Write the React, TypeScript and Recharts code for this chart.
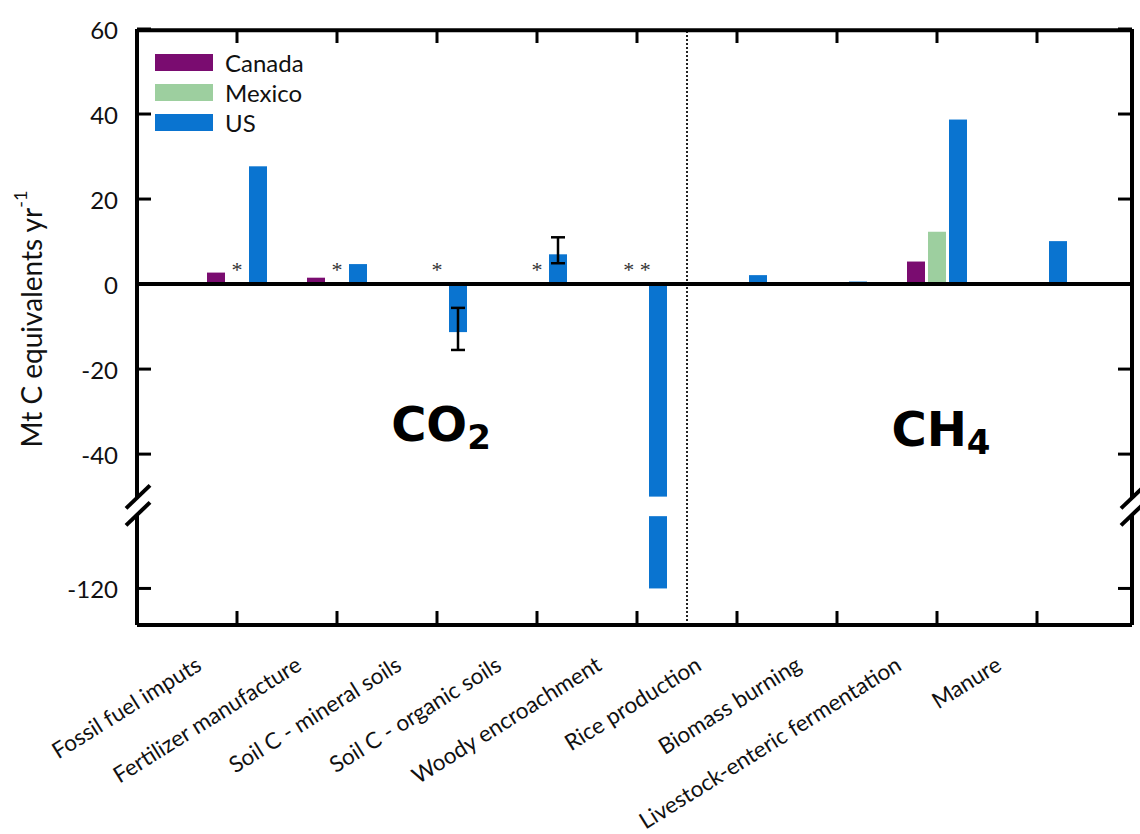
import React from 'react';
import { BarChart, Bar, Line, XAxis, YAxis, ReferenceLine, ReferenceDot, ErrorBar, Legend } from 'recharts';

// ---------- data ----------
const categories = [
  'Fossil fuel imputs',
  'Fertilizer manufacture',
  'Soil C - mineral soils',
  'Soil C - organic soils',
  'Woody encroachment',
  'Rice production',
  'Biomass burning',
  'Livestock-enteric fermentation',
  'Manure',
];
const canadaValues: (number | null)[] = [2.7, 1.5, null, null, null, null, null, 5.3, null];
const mexicoValues: (number | null)[] = [null, null, null, null, null, null, null, 12.3, null];
const usValues: number[] = [27.7, 4.7, -11.3, 7.0, -120, 2.1, 0.6, 38.7, 10.1];
const usErrorLow: (number | null)[] = [null, null, 4.2, 2.1, null, null, null, null, null];
const usErrorHigh: (number | null)[] = [null, null, 5.7, 4.0, null, null, null, null, null];
const notEstimatedMarks = ['*', '*', '*', '*', '* *', '', '', '', ''];
const yTickValues = [60, 40, 20, 0, -20, -40, -120];
const seriesKeys = ['canada', 'mexico', 'us'];
const seriesNames = ['Canada', 'Mexico', 'US'];
const seriesColors = ['#7a0c70', '#9dcf9f', '#0a74d0'];
const gasLabels = [
  { gas: 'CO', sub: '2', category: 'Soil C - mineral soils', y: -37 },
  { gas: 'CH', sub: '4', category: 'Livestock-enteric fermentation', y: -38 },
];

// ---------- broken axis ----------
const Y_MAX = 60;
const Y_MIN = -80.2; // display units
const BREAK_FROM = -50; // real value where the axis breaks
const BREAK_TO = -103; // real value where the axis resumes
const BREAK_GAP = 4.6; // display units of white gap
const BREAK_MARK = BREAK_FROM - BREAK_GAP / 2;
const LOWER_SHIFT = BREAK_FROM - BREAK_GAP - BREAK_TO;
const TOP_EDGE = Y_MAX - 0.3; // just inside the domain so the frame line is not discarded
const TOP_TICK_END = Y_MAX - 3.3; // inward tick length on the top frame

const toDisplay = (v: number | null) => {
  if (v == null) return null;
  if (v >= BREAK_FROM) return v;
  if (v <= BREAK_TO) return v + LOWER_SHIFT;
  return BREAK_FROM - ((BREAK_FROM - v) / (BREAK_FROM - BREAK_TO)) * BREAK_GAP;
};
const fromDisplay = (d: number) => (d >= BREAK_FROM ? d : Math.round(d - LOWER_SHIFT));

const data = categories.map((name, i) => ({
  name,
  canada: toDisplay(canadaValues[i]),
  mexico: toDisplay(mexicoValues[i]),
  us: toDisplay(usValues[i]),
  usErr: usErrorLow[i] == null ? null : [usErrorLow[i], usErrorHigh[i]],
}));

const yTicks = [...yTickValues.map((v) => toDisplay(v) as number), BREAK_MARK];

const FONT = 'Lato, "Open Sans", sans-serif';

// ---------- custom pieces ----------
const BrokenBar = (props: any) => {
  const { x, y, width, height, fill, payload } = props;
  if (x == null || y == null || !isFinite(height)) return null;
  const top = Math.min(y, y + height);
  const h = Math.abs(height);
  const dv = payload?.us;
  if (dv == null || dv >= BREAK_FROM || h === 0) {
    return <rect x={x} y={top} width={width} height={h} fill={fill} />;
  }
  const ppu = h / Math.abs(dv);
  const g1 = top + Math.abs(BREAK_FROM) * ppu;
  const g2 = top + Math.abs(BREAK_FROM - BREAK_GAP) * ppu;
  return (
    <g>
      <rect x={x} y={top} width={width} height={g1 - top} fill={fill} />
      <rect x={x} y={g2} width={width} height={top + h - g2} fill={fill} />
    </g>
  );
};

const BreakSymbol = ({ ax, yc }: { ax: number; yc: number }) => (
  <g>
    <rect x={ax - 3} y={yc - 8.5} width={6} height={17} fill="#fff" />
    <line x1={ax - 11} y1={yc + 2} x2={ax + 13} y2={yc - 21} stroke="#000" strokeWidth={4} />
    <line x1={ax - 11} y1={yc + 19} x2={ax + 13} y2={yc - 4} stroke="#000" strokeWidth={4} />
  </g>
);

const LeftTick = (props: any) => {
  const { x, y, payload } = props;
  const ax = x + 19;
  if (payload.value === BREAK_MARK) return <BreakSymbol ax={ax} yc={y} />;
  return (
    <g>
      <line x1={ax} x2={ax + 14} y1={y} y2={y} stroke="#000" strokeWidth={3} />
      <text x={x} y={y} textAnchor="end" dominantBaseline="central" fontSize={24} fontFamily={FONT} fill="#111">
        {fromDisplay(payload.value)}
      </text>
    </g>
  );
};

const RightTick = (props: any) => {
  const { x, y, payload } = props;
  if (payload.value === BREAK_MARK) return <BreakSymbol ax={x} yc={y} />;
  return <line x1={x - 14} x2={x} y1={y} y2={y} stroke="#000" strokeWidth={3} />;
};

const BottomTick = (props: any) => {
  const { x, y, payload } = props;
  const tx = x - 34;
  const ty = y + 44;
  return (
    <g>
      <line x1={x} x2={x} y1={y} y2={y - 14} stroke="#000" strokeWidth={3} />
      <text x={tx} y={ty} textAnchor="end" transform={`rotate(-32, ${tx}, ${ty})`} fontSize={22.5} fontFamily={FONT} fill="#111">
        {payload.value}
      </text>
    </g>
  );
};

const YTitle = (props: any) => {
  const vb = props.viewBox || { x: 0, y: 0, width: 0, height: 0 };
  const cx = vb.x + 31;
  const cy = vb.y + vb.height / 2 - 8;
  return (
    <text x={cx} y={cy} transform={`rotate(-90, ${cx}, ${cy})`} textAnchor="middle" dominantBaseline="central" fontSize={28} fontFamily={FONT} fill="#111">
      Mt C equivalents yr
      <tspan dy={-11} fontSize={18}>-1</tspan>
    </text>
  );
};

const StarLabel = (props: any) => {
  const vb = props.viewBox || { x: 0, y: 0, width: 0, height: 0 };
  return (
    <text x={vb.x + vb.width / 2} y={vb.y - 7} textAnchor="middle" fontSize={22} fontFamily='"Liberation Serif", serif' fill="#333">
      {props.mark}
    </text>
  );
};

const GasLabel = (props: any) => {
  const vb = props.viewBox || { x: 0, y: 0, width: 0, height: 0 };
  return (
    <text x={vb.x + vb.width / 2 + 4} y={vb.y} textAnchor="middle" fontSize={48} fontWeight="bold" fontFamily='"DejaVu Sans", sans-serif' fill="#000">
      {props.gas}
      <tspan dy={8} fontSize={34}>{props.sub}</tspan>
    </text>
  );
};

const LegendContent = () => (
  <div style={{ fontFamily: FONT, fontSize: 24, color: '#111' }}>
    {seriesNames.map((n, i) => (
      <div key={n} style={{ display: 'flex', alignItems: 'center', height: 30 }}>
        <span style={{ display: 'inline-block', width: 58, height: 17, background: seriesColors[i], marginRight: 12 }} />
        <span>{n}</span>
      </div>
    ))}
  </div>
);

export default function App() {
  return (
    <div style={{ position: 'absolute', left: 0, top: 0, width: 1140, height: 834, background: '#fff' }}>
      <BarChart
        width={1140}
        height={834}
        data={data}
        margin={{ top: 29, right: 7, bottom: 0, left: 0 }}
        barSize={18}
        barGap={3}
      >
        <XAxis
          xAxisId="bottom"
          dataKey="name"
          height={209}
          padding={{ left: 50, right: 45 }}
          interval={0}
          tickSize={0}
          tickMargin={0}
          tickLine={false}
          tick={<BottomTick />}
          axisLine={{ stroke: '#000', strokeWidth: 4 }}
        />
        <YAxis
          yAxisId="left"
          type="number"
          width={137}
          domain={[Y_MIN, Y_MAX]}
          ticks={yTicks}
          interval={0}
          tickSize={0}
          tickMargin={19}
          tickLine={false}
          tick={<LeftTick />}
          axisLine={{ stroke: '#000', strokeWidth: 4 }}
          label={<YTitle />}
        />
        <YAxis
          yAxisId="right"
          orientation="right"
          type="number"
          width={1}
          domain={[Y_MIN, Y_MAX]}
          ticks={yTicks}
          interval={0}
          tickSize={0}
          tickMargin={0}
          tickLine={false}
          tick={<RightTick />}
          axisLine={{ stroke: '#000', strokeWidth: 4 }}
        />
        <Legend
          layout="vertical"
          align="center"
          verticalAlign="middle"
          content={<LegendContent />}
          wrapperStyle={{ left: 155, top: 47, width: 'auto', height: 'auto' }}
        />
        <ReferenceLine
          xAxisId="bottom"
          yAxisId="left"
          x="Woody encroachment"
          position="end"
          stroke="#222"
          strokeWidth={2}
          strokeDasharray="2 2"
        />
        <Bar xAxisId="bottom" yAxisId="left" dataKey={seriesKeys[0]} name={seriesNames[0]} fill={seriesColors[0]} isAnimationActive={false} />
        <Bar xAxisId="bottom" yAxisId="left" dataKey={seriesKeys[1]} name={seriesNames[1]} fill={seriesColors[1]} isAnimationActive={false} />
        <Bar xAxisId="bottom" yAxisId="left" dataKey={seriesKeys[2]} name={seriesNames[2]} fill={seriesColors[2]} isAnimationActive={false} shape={<BrokenBar />}>
          <ErrorBar dataKey="usErr" width={7} stroke="#000" strokeWidth={2.5} direction="y" />
        </Bar>
        {/* invisible series that binds the mirrored right frame axis */}
        <Line
          xAxisId="bottom"
          yAxisId="right"
          dataKey="us"
          stroke="none"
          strokeWidth={0}
          dot={false}
          activeDot={false}
          legendType="none"
          isAnimationActive={false}
        />
        {/* top frame and its inward ticks */}
        <ReferenceLine xAxisId="bottom" yAxisId="left" y={TOP_EDGE} stroke="#000" strokeWidth={4} />
        {categories.map((c) => (
          <ReferenceLine
            key={'t' + c}
            xAxisId="bottom"
            yAxisId="left"
            segment={[{ x: c, y: TOP_EDGE }, { x: c, y: TOP_TICK_END }]}
            stroke="#000"
            strokeWidth={3}
          />
        ))}
        <ReferenceLine xAxisId="bottom" yAxisId="left" y={0} stroke="#000" strokeWidth={4} />
        {categories.map((c, i) =>
          notEstimatedMarks[i] ? (
            <ReferenceDot
              key={'m' + i}
              xAxisId="bottom"
              yAxisId="left"
              x={c}
              y={0}
              r={0}
              fill="none"
              stroke="none"
              label={<StarLabel mark={notEstimatedMarks[i]} />}
            />
          ) : null
        )}
        {gasLabels.map((g) => (
          <ReferenceDot
            key={g.gas}
            xAxisId="bottom"
            yAxisId="left"
            x={g.category}
            y={g.y}
            r={0}
            fill="none"
            stroke="none"
            label={<GasLabel gas={g.gas} sub={g.sub} />}
          />
        ))}
      </BarChart>
    </div>
  );
}
